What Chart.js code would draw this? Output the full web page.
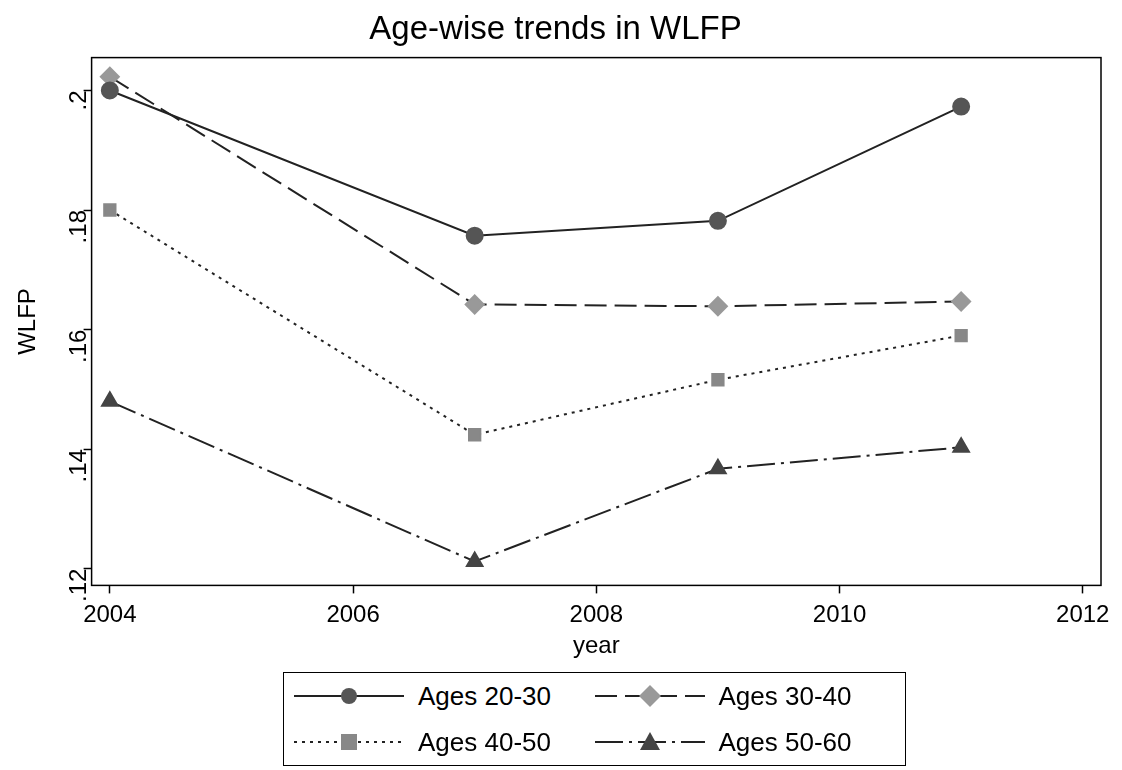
<!DOCTYPE html>
<html><head><meta charset="utf-8">
<script src="https://cdn.jsdelivr.net/npm/chart.js@4"></script>
<style>
body{margin:0;background:#fff;font-family:"Liberation Sans",Arial,sans-serif;}
#wrap{position:relative;width:1122px;height:665px;}
#legend{position:absolute;left:283px;top:672px;width:623px;height:94px;border:1px solid #000;box-sizing:border-box;
display:grid;grid-template-columns:1fr 1fr;align-items:center;font-size:26px;padding:0 10px;}
#legend div{display:flex;align-items:center;gap:14px;}
</style></head><body>
<div id="wrap"><canvas id="c" width="1122" height="665"></canvas></div>
<div id="legend"></div>
<script>
// Data
const years = [2004, 2007, 2009, 2011];
const ages2030 = [0.200, 0.1757, 0.1782, 0.1973];
const ages3040 = [0.2023, 0.1642, 0.1639, 0.1647];
const ages4050 = [0.180, 0.1424, 0.1516, 0.159];
const ages5060 = [0.148, 0.1212, 0.1367, 0.1403];
const xTicks = [2004, 2006, 2008, 2010, 2012];
const yTicks = [0.12, 0.14, 0.16, 0.18, 0.2];

const series = [
  {label: 'Ages 20-30', data: ages2030, dash: [], marker: 'circle', fill: '#555', size: 8},
  {label: 'Ages 30-40', data: ages3040, dash: [22, 8], marker: 'rectRot', fill: '#999', size: 9},
  {label: 'Ages 40-50', data: ages4050, dash: [3, 5], marker: 'rect', fill: '#888', size: 8},
  {label: 'Ages 50-60', data: ages5060, dash: [28, 6, 3, 6], marker: 'triangle', fill: '#444', size: 9}
];

const plotBorder = {
  id: 'plotBorder',
  afterDraw(chart) {
    const a = chart.chartArea, ctx = chart.ctx;
    ctx.save(); ctx.strokeStyle = '#000'; ctx.lineWidth = 1.5;
    ctx.strokeRect(a.left, a.top, a.right - a.left, a.bottom - a.top);
    ctx.restore();
  }
};

const tickFont = {size: 24, family: '"Liberation Sans", Arial'};

new Chart(document.getElementById('c'), {
  type: 'line',
  data: {
    datasets: series.map(s => ({
      label: s.label,
      data: years.map((y, i) => ({x: y, y: s.data[i]})),
      borderColor: '#222', borderWidth: 2, borderDash: s.dash,
      pointStyle: s.marker, pointRadius: s.size, pointBackgroundColor: s.fill,
      pointBorderColor: s.fill, tension: 0
    }))
  },
  options: {
    responsive: false, animation: false,
    layout: {padding: {right: 21, top: 0, left: 10, bottom: 0}},
    plugins: {
      legend: {display: false},
      title: {display: true, text: 'Age-wise trends in WLFP', color: '#000',
        font: {size: 33, weight: 'normal', family: '"Liberation Sans", Arial'}, padding: {top: 10, bottom: 8}}
    },
    scales: {
      x: {type: 'linear', min: 2003.85, max: 2012.15,
        afterBuildTicks: ax => { ax.ticks = xTicks.map(v => ({value: v})); },
        grid: {drawOnChartArea: false, tickLength: 8, color: '#000', tickWidth: 1.5},
        border: {display: false},
        ticks: {color: '#000', font: tickFont, callback: v => String(v), padding: 8},
        title: {display: true, text: 'year', color: '#000', font: tickFont, padding: {top: -6}}
      },
      y: {min: 0.1172, max: 0.2055,
        afterBuildTicks: ax => { ax.ticks = yTicks.map(v => ({value: v})); },
        grid: {drawOnChartArea: false, tickLength: 8, color: '#000', tickWidth: 1.5},
        border: {display: false},
        ticks: {color: '#000', minRotation: 90, maxRotation: 90, font: tickFont, padding: 4,
          callback: v => String(+v.toFixed(2)).replace(/^0/, '')},
        title: {display: true, text: 'WLFP', color: '#000', font: tickFont}
      }
    }
  },
  plugins: [plotBorder]
});

// Legend
const leg = document.getElementById('legend');
series.forEach(s => {
  const d = document.createElement('div');
  const cv = document.createElement('canvas');
  cv.width = 110; cv.height = 30;
  const g = cv.getContext('2d');
  g.strokeStyle = '#222'; g.lineWidth = 2; g.setLineDash(s.dash);
  g.beginPath(); g.moveTo(0, 15); g.lineTo(110, 15); g.stroke();
  g.setLineDash([]); g.fillStyle = s.fill; g.beginPath();
  if (s.marker === 'circle') g.arc(55, 15, 8, 0, 7);
  else if (s.marker === 'rect') g.rect(47, 7, 16, 16);
  else if (s.marker === 'rectRot') { g.moveTo(55, 4); g.lineTo(66, 15); g.lineTo(55, 26); g.lineTo(44, 15); }
  else { g.moveTo(55, 5); g.lineTo(65, 23); g.lineTo(45, 23); }
  g.fill();
  d.appendChild(cv);
  d.appendChild(document.createTextNode(s.label));
  leg.appendChild(d);
});
</script>
</body></html>
